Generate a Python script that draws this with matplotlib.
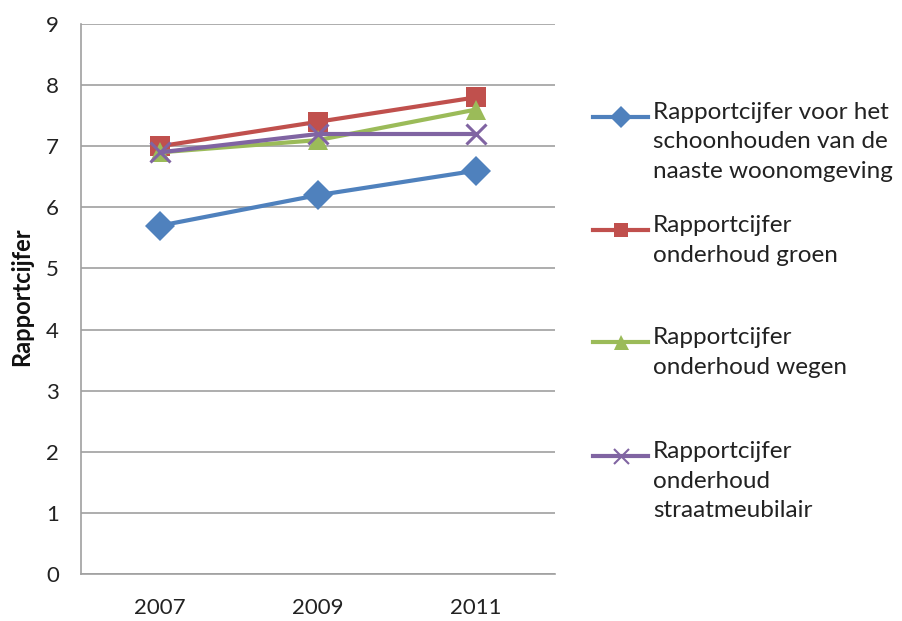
import matplotlib
matplotlib.use('Agg')
import matplotlib.pyplot as plt
from matplotlib.lines import Line2D

years = ['2007', '2009', '2011']
schoonhouden = [5.7, 6.2, 6.6]
groen = [7.0, 7.4, 7.8]
wegen = [6.9, 7.1, 7.6]
straatmeubilair = [6.9, 7.2, 7.2]

labels = ['Rapportcijfer voor het\nschoonhouden van de\nnaaste woonomgeving',
          'Rapportcijfer\nonderhoud groen',
          'Rapportcijfer\nonderhoud wegen',
          'Rapportcijfer\nonderhoud\nstraatmeubilair']
colors = ['#4F81BD', '#C0504D', '#9BBB59', '#8064A2']
markers = ['D', 's', '^', 'x']
msizes = [15, 14, 15, 15]

plt.rcParams['font.family'] = ['Lato', 'DejaVu Sans']

fig = plt.figure(figsize=(9.02, 6.21), dpi=100)
ax = fig.add_axes([81 / 902, 1 - 574 / 621, (555 - 81) / 902, (574 - 24) / 621])

x = range(len(years))
series = [schoonhouden, groen, wegen, straatmeubilair]
for vals, c, m, ms in zip(series, colors, markers, msizes):
    ax.plot(x, vals, color=c, lw=3, marker=m, ms=ms, mew=2.2 if m == 'x' else 0,
            mec=c, mfc=c, zorder=3)

ax.set_xlim(-0.5, 2.5)
ax.set_ylim(0, 9)
ax.set_yticks(range(10))
ax.set_xticks(list(x))
ax.set_xticklabels(years)
ax.tick_params(length=0, labelsize=16, colors='#222222')
ax.tick_params(axis='y', pad=16)
ax.tick_params(axis='x', pad=17)
ax.grid(axis='y', color='#a0a0a0', lw=1.2)
ax.set_axisbelow(True)
for s in ['top', 'right']:
    ax.spines[s].set_visible(False)
for s in ['left', 'bottom']:
    ax.spines[s].set_color('#a0a0a0')
    ax.spines[s].set_linewidth(1.2)
ax.set_ylabel('Rapportcijfer', fontsize=17, fontweight='bold', color='#111111')
ax.yaxis.set_label_coords(-48 / 474, 0.505)

# legend, handle aligned with the first text line like Excel does
leg_y = [117, 230, 342, 456]
for lab, c, m, ms, yy in zip(labels, colors, markers, msizes, leg_y):
    fy = 1 - yy / 621
    fig.add_artist(Line2D([593 / 902, 648 / 902], [fy, fy], color=c, lw=3,
                          transform=fig.transFigure))
    fig.add_artist(Line2D([620.5 / 902], [fy], color=c, marker=m,
                          ms=ms * 0.72, mew=1.5 if m == 'x' else 0, mec=c, mfc=c,
                          transform=fig.transFigure))
    fig.text(653 / 902, fy + 15 / 621, lab, fontsize=17.5, va='top', ha='left',
             color='#222222', linespacing=1.5)

fig.savefig('out.png', dpi=100)
